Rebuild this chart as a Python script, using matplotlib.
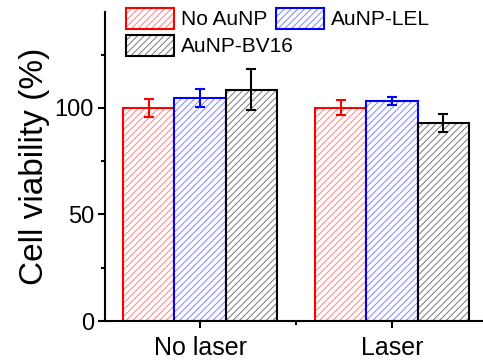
import matplotlib
matplotlib.use('Agg')
import matplotlib.pyplot as plt
from matplotlib.patches import Patch
from matplotlib.ticker import MultipleLocator
import numpy as np

plt.rcParams['font.family'] = ['Liberation Sans', 'DejaVu Sans']
plt.rcParams['hatch.linewidth'] = 0.75

groups = ['No laser', 'Laser']
series = ['No AuNP', 'AuNP-LEL', 'AuNP-BV16']
no_aunp = [100.0, 100.0]
no_aunp_err = [4.4, 3.5]
aunp_lel = [104.8, 103.4]
aunp_lel_err = [4.3, 1.9]
aunp_bv16 = [108.6, 92.8]
aunp_bv16_err = [9.7, 4.2]

edge_cols = ['#ff0000', '#0000ff', '#000000']
hatch_cols = ['#ff8a8a', '#8a8aff', '#808080']
hatch = '/////'

fig = plt.figure(figsize=(4.83, 3.60), dpi=100)
ax = fig.add_axes([105/483, 39/360, 1 - 105/483, 309/360])

x = np.arange(1, len(groups) + 1)
w = 0.266
vals = [no_aunp, aunp_lel, aunp_bv16]
errs = [no_aunp_err, aunp_lel_err, aunp_bv16_err]

handles = []
for i, (v, e) in enumerate(zip(vals, errs)):
    pos = x + (i - 1) * w
    ax.bar(pos, v, w, color='white', edgecolor=hatch_cols[i], hatch=hatch, linewidth=0)
    ax.bar(pos, v, w, fill=False, edgecolor=edge_cols[i], linewidth=1.5)
    ax.errorbar(pos, v, yerr=e, fmt='none', ecolor=edge_cols[i], elinewidth=1.5,
                capsize=3.5, capthick=1.5)
    h1 = Patch(facecolor='white', edgecolor=hatch_cols[i], hatch=hatch, linewidth=0)
    h2 = Patch(fill=False, edgecolor=edge_cols[i], linewidth=1.5)
    handles.append((h1, h2))

ax.set_xlim(0.505, 2.474)
ax.set_ylim(0, 145)
ax.set_xticks(x)
ax.set_xticklabels(groups, fontsize=18)
ax.xaxis.set_minor_locator(MultipleLocator(0.5))
ax.set_yticks([0, 50, 100])
ax.yaxis.set_minor_locator(MultipleLocator(25))
ax.tick_params(axis='y', labelsize=17, width=1.5, length=5, pad=3)
ax.tick_params(axis='x', width=1.5, length=5, pad=6)
ax.tick_params(which='minor', width=1.5, length=3)
ax.set_ylabel('Cell viability (%)', fontsize=24, labelpad=3)

for s in ['top', 'right']:
    ax.spines[s].set_visible(False)
for s in ['left', 'bottom']:
    ax.spines[s].set_linewidth(1.5)

leg_kw = dict(loc='upper left', frameon=False, fontsize=15, borderpad=0,
              borderaxespad=0, handlelength=2.3, handleheight=1.15,
              handletextpad=0.35, columnspacing=0.4)
leg1 = fig.legend(handles[:2], series[:2], ncol=2,
                  bbox_to_anchor=(126/483, 1 - 8/360), **leg_kw)
leg2 = fig.legend(handles[2:], series[2:],
                  bbox_to_anchor=(126/483, 1 - 35/360), **leg_kw)

fig.savefig('out.png', dpi=100)
